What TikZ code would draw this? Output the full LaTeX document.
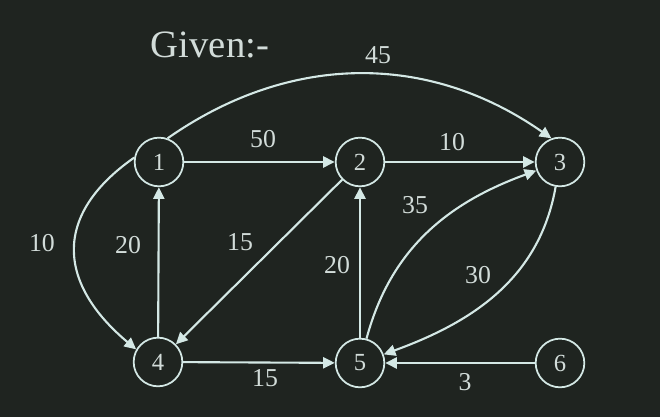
\documentclass[tikz,border=0pt]{standalone}
\usepackage{fontspec}
\setmainfont{Liberation Serif}
\usepackage{tikz}
\usetikzlibrary{arrows.meta}

\definecolor{board}{HTML}{1F2420}
\definecolor{chalk}{HTML}{D4E8E5}
\definecolor{chalktext}{HTML}{D2DCD9}

\begin{document}
\begin{tikzpicture}[
  x=0.03cm, y=0.03cm,
  every node/.style={font=\fontsize{22}{26}\selectfont, text=chalktext},
  vertex/.style={circle, draw=chalk, line width=1.5pt, minimum size=1.46cm,
                 inner sep=0pt, font=\fontsize{21}{25}\selectfont},
  edge/.style={draw=chalk, line width=1.8pt, -{Triangle[length=10pt,width=9.5pt]}},
]

%% ── Board: 660 x 417 px, 1 px = 0.03 cm ─────────────────────────────────────
\fill[board] (0,0) rectangle (660,417);
\useasboundingbox (0,0) rectangle (660,417);

\node[font=\fontsize{33}{38}\selectfont] (given) at (210,372) {Given:-};

%% ── Vertices ─────────────────────────────────────────────────────────────────
\node[vertex] (n1) at (159,255) {1};
\node[vertex] (n2) at (360,255) {2};
\node[vertex] (n3) at (560,255) {3};
\node[vertex] (n4) at (158,55)  {4};
\node[vertex] (n5) at (360,54)  {5};
\node[vertex] (n6) at (560,54)  {6};

%% ── Edges ────────────────────────────────────────────────────────────────────
\draw[edge] (n1) -- (n2);
\draw[edge] (n2) -- (n3);
\draw[edge] (n1.70) to[out=35, in=145] (n3.110);
\draw[edge] (n1.170) to[out=215, in=140, looseness=1.35] (n4.150);
\draw[edge] (n4) -- (n1);
\draw[edge] (n2) -- (n4);
\draw[edge] (n4) -- (n5);
\draw[edge] (n5) -- (n2);
\draw[edge] (n5) to[out=75, in=200] (n3);
\draw[edge] (n3) to[out=260, in=20] (n5);
\draw[edge] (n6) -- (n5);

%% ── Weights ──────────────────────────────────────────────────────────────────
\node (w13) at (378,362) {45};
\node (w12) at (263,278) {50};
\node (w23) at (452,275) {10};
\node (w14) at (42,174)  {10};
\node (w41) at (128,172) {20};
\node (w24) at (240,175) {15};
\node (w52) at (337,152) {20};
\node (w53) at (415,212) {35};
\node (w35) at (478,142) {30};
\node (w45) at (265,39)  {15};
\node (w65) at (465,35)  {3};

\end{tikzpicture}
\end{document}
